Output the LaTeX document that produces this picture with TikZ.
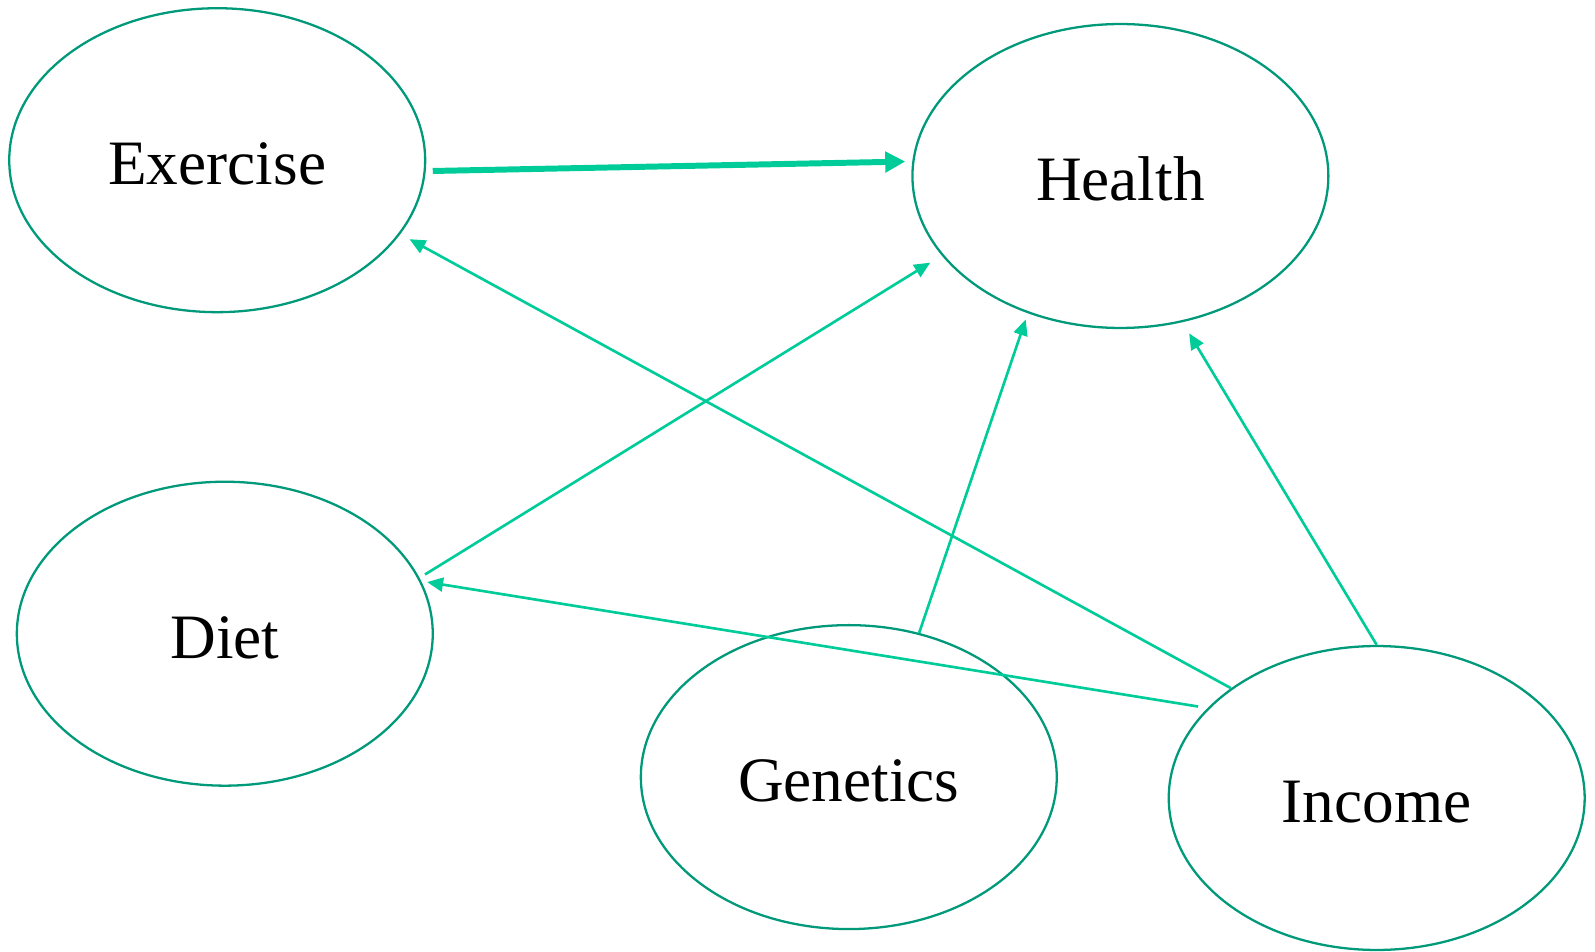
\documentclass[tikz,border=0pt]{standalone}
\usepackage{fontspec}
\setmainfont{Liberation Serif}
\usepackage{xcolor}
\definecolor{dagnode}{HTML}{00997A}
\definecolor{dagarrow}{HTML}{00CC99}
\usepackage{tikz}
\usetikzlibrary{shapes.geometric,arrows.meta}
\tikzset{
  dagvar/.style={
    ellipse, draw=dagnode, line width=1.3pt,
    minimum width=8.32cm, minimum height=6.08cm, inner sep=0pt,
    text height=28pt, text depth=0pt,
    font=\fontsize{36}{43}\selectfont
  },
  dagedge/.style={draw=dagarrow, line width=1.5pt,
                  -{Triangle[length=0.32cm,width=0.28cm]}},
  dagmain/.style={draw=dagarrow, line width=3.4pt,
                  -{Triangle[length=0.4cm,width=0.4cm]}}
}
\begin{document}
\begin{tikzpicture}[x=0.02cm, y=-0.02cm]
  \useasboundingbox (0,0) rectangle (1595,952);
  \node[dagvar] (exercise) at (217.2,160.2) {Exercise};
  \node[dagvar] (health)   at (1120.4,176)  {Health};
  \node[dagvar] (diet)     at (224.8,633.7) {Diet};
  \node[dagvar] (genetics) at (848.8,777.1) {Genetics};
  \node[dagvar] (income)   at (1376.7,798)  {Income};

  \draw[dagmain, shorten <=0.14cm, shorten >=0.14cm]
    (exercise.-3) -- (health.176);
  \draw[dagedge, shorten >=0.21cm] (income.143.5) -- (exercise.-22);
  \draw[dagedge, shorten <=0.19cm, shorten >=0.12cm] (income.152) -- (diet.15);
  \draw[dagedge, shorten <=0.13cm, shorten >=0.27cm] (diet.16) -- (health.-156.7);
  \draw[dagedge, shorten >=0.13cm] (genetics.64) -- (health.-124.2);
  \draw[dagedge, shorten >=0.26cm] (income.north) -- (health.-67.4);
\end{tikzpicture}
\end{document}
